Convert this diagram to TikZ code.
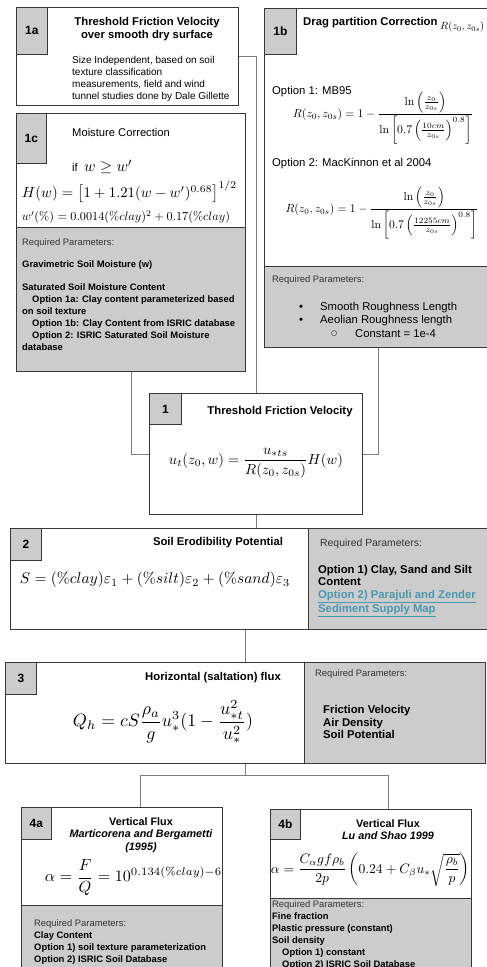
\documentclass[tikz,border=0pt]{standalone}
\usepackage[no-math]{fontspec}
\usepackage{amsmath}
\usepackage{graphicx}
\usetikzlibrary{positioning,calc}
\newfontfamily\arialfont{Liberation Sans}
\newfontfamily\symfont{DejaVu Sans}
\definecolor{boxline}{RGB}{55,55,55}
\definecolor{wiregray}{RGB}{125,125,125}
\definecolor{reqfill}{RGB}{204,204,204}
\definecolor{linkteal}{RGB}{74,152,176}

\begin{document}
\begin{tikzpicture}[
    x=1pt, y=-1pt,
    panel/.style={draw=boxline, line width=0.8pt, fill=white, anchor=north west, inner sep=0pt},
    reqbox/.style={draw=boxline, line width=0.8pt, fill=reqfill, anchor=north west, inner sep=0pt},
    tagbox/.style={draw=boxline, line width=0.8pt, fill=reqfill, anchor=north west, inner sep=0pt, font=\arialfont\bfseries\fontsize{12}{12}\selectfont},
    heading/.style={font=\arialfont\bfseries\fontsize{11.3}{12.5}\selectfont, align=center, inner sep=0pt},
    subhead/.style={font=\arialfont\bfseries\fontsize{10.8}{12.5}\selectfont, align=center, inner sep=0pt},
    body/.style={font=\arialfont\fontsize{10}{12}\selectfont, align=left, anchor=west, inner sep=0pt},
    opt/.style={font=\arialfont\fontsize{11.3}{13}\selectfont, anchor=west, inner sep=0pt},
    req/.style={font=\arialfont\fontsize{9.4}{11}\selectfont, anchor=west, inner sep=0pt, text=black!80},
    param/.style={font=\arialfont\bfseries\fontsize{9.4}{12}\selectfont, align=left, anchor=west, inner sep=0pt},
    bigparam/.style={font=\arialfont\bfseries\fontsize{11.3}{12.7}\selectfont, align=left, anchor=west, inner sep=0pt},
    formula/.style={inner sep=0pt},
    wire/.style={draw=wiregray, line width=0.8pt}
]
\useasboundingbox (0,0) rectangle (487,967);
\clip (0,0) rectangle (487,967);

% Threshold friction velocity, smooth surface
\node[panel, minimum width=222, minimum height=98] (box1a) at (16,7) {};
\node[tagbox, minimum width=31, minimum height=47] (tag1a) at (16,7) {1a};
\node[heading] (head1a) at (147,29) {Threshold Friction Velocity\\over smooth dry surface};
\node[body] (text1a) at (72,79) {Size Independent, based on soil\\texture classification\\measurements, field and wind\\tunnel studies done by Dale Gillette};

% Drag partition
\node[panel, minimum width=228, minimum height=339] (box1b) at (264,8) {};
\node[reqbox, minimum width=228, minimum height=81] (req1b) at (264,266) {};
\node[tagbox, minimum width=32, minimum height=46] (tag1b) at (264,8) {1b};
\node[heading, anchor=west] (head1b) at (303,23) {Drag partition Correction};
\node[formula, anchor=west] (r1b) at (440,27) {\resizebox{44pt}{!}{$R(z_0, z_{0s})$}};
\node[opt] (opt1b1) at (272,92) {Option 1: MB95};
\node[formula] (eq1b1) at (383,118) {\resizebox{180pt}{!}{$\displaystyle R(z_0, z_{0s}) = 1 - \frac{\ln\left(\frac{z_0}{z_{0s}}\right)}{\ln\left[0.7\left(\frac{10cm}{z_{0s}}\right)^{0.8}\right]}$}};
\node[opt] (opt1b2) at (272,164) {Option 2: MacKinnon et al 2004};
\node[formula] (eq1b2) at (382,213) {\resizebox{193pt}{!}{$\displaystyle R(z_0, z_{0s}) = 1 - \frac{\ln\left(\frac{z_0}{z_{0s}}\right)}{\ln\left[0.7\left(\frac{12255cm}{z_{0s}}\right)^{0.8}\right]}$}};
\node[req] (reqt1b) at (272,280) {Required Parameters:};
\node[opt] (dot1) at (299,308) {•};
\node[opt] (item1) at (320,308) {Smooth Roughness Length};
\node[opt] (dot2) at (299,321) {•};
\node[opt] (item2) at (320,321) {Aeolian Roughness length};
\node[opt, font=\symfont\fontsize{7}{8}\selectfont] (ring1) at (331,334) {○};
\node[opt] (item3) at (355,334) {Constant = 1e-4};

% Moisture correction
\node[panel, minimum width=229, minimum height=258] (box1c) at (16,113) {};
\node[reqbox, minimum width=229, minimum height=144] (req1c) at (16,227) {};
\node[tagbox, minimum width=30, minimum height=50] (tag1c) at (16,113) {1c};
\node[opt, font=\arialfont\fontsize{11.2}{13}\selectfont] (head1c) at (72,132) {Moisture Correction};
\node[opt] (if1c) at (72,167) {if\ \ \resizebox{48pt}{!}{$w \geq w'$}};
\node[formula] (eq1c1) at (129.5,192) {\resizebox{215pt}{!}{$H(w) = \left[1 + 1.21(w - w')^{0.68}\right]^{1/2}$}};
\node[formula] (eq1c2) at (126,217) {\resizebox{208pt}{!}{$w'(\%) = 0.0014(\%clay)^2 + 0.17(\%clay)$}};
\node[req] (reqt1c) at (22,243) {Required Parameters:};
\node[param] (par1c1) at (22,265) {Gravimetric Soil Moisture (w)};
\node[param] (par1c2) at (22,317) {Saturated Soil Moisture Content\\
  \hspace*{10pt}Option 1a: Clay content parameterized based\\
  on soil texture\\
  \hspace*{10pt}Option 1b: Clay Content from ISRIC database\\
  \hspace*{10pt}Option 2: ISRIC Saturated Soil Moisture\\
  database};

% Threshold friction velocity
\node[panel, minimum width=213, minimum height=121] (box1) at (149,393) {};
\node[tagbox, minimum width=32, minimum height=31] (tag1) at (149,393) {1};
\node[heading] (head1) at (280,412) {Threshold Friction Velocity};
\node[formula] (eq1) at (256,463) {\resizebox{174pt}{!}{$\displaystyle u_t(z_0,w) = \frac{u_{*ts}}{R(z_0,z_{0s})}H(w)$}};

% Soil erodibility
\node[panel, minimum width=476.5, minimum height=101] (box2) at (10,528) {};
\node[reqbox, minimum width=178.5, minimum height=101] (req2) at (308,528) {};
\node[tagbox, minimum width=31, minimum height=32] (tag2) at (10,528) {2};
\node[heading] (head2) at (218,543) {Soil Erodibility Potential};
\node[formula] (eq2) at (155,580) {\resizebox{270pt}{!}{$S = (\%clay)\varepsilon_1 + (\%silt)\varepsilon_2 + (\%sand)\varepsilon_3$}};
\node[req, font=\arialfont\fontsize{10.4}{12}\selectfont] (reqt2) at (320,544) {Required Parameters:};
\node[bigparam] (par2) at (318,591) {Option 1) Clay, Sand and Silt\\Content\\
  \textcolor{linkteal}{\underline{Option 2) Parajuli and Zender}}\\
  \textcolor{linkteal}{\underline{Sediment Supply Map}}};

% Horizontal flux
\node[panel, minimum width=480, minimum height=101] (box3) at (5,662) {};
\node[reqbox, minimum width=181, minimum height=101] (req3) at (304,662) {};
\node[tagbox, minimum width=31, minimum height=32] (tag3) at (5,662) {3};
\node[heading] (head3) at (213,678) {Horizontal (saltation) flux};
\node[formula] (eq3) at (163,722) {\resizebox{180pt}{!}{$\displaystyle Q_h = cS\frac{\rho_a}{g}u_*^3(1-\frac{u_{*t}^2}{u_*^2})$}};
\node[req] (reqt3) at (315,674) {Required Parameters:};
\node[bigparam] (par3) at (323,722) {Friction Velocity\\Air Density\\Soil Potential};

% Vertical flux
\node[panel, minimum width=201, minimum height=180] (box4a) at (21,807) {};
\node[reqbox, minimum width=201, minimum height=80] (req4a) at (21,905) {};
\node[tagbox, minimum width=30, minimum height=32] (tag4a) at (21,807) {4a};
\node[subhead] (head4a) at (141,835) {Vertical Flux\\\itshape Marticorena and Bergametti\\\itshape (1995)};
\node[formula] (eq4a) at (133.5,878) {\resizebox{177pt}{!}{$\displaystyle \alpha = \frac{F}{Q} = 10^{0.134(\%clay)-6}$}};
\node[req] (reqt4a) at (34,924) {Required Parameters:};
\node[param] (par4a) at (34,948) {Clay Content\\Option 1) soil texture parameterization\\Option 2) ISRIC Soil Database};

\node[panel, minimum width=201, minimum height=180] (box4b) at (270,809) {};
\node[reqbox, minimum width=201, minimum height=90] (req4b) at (270,898) {};
\node[tagbox, minimum width=30, minimum height=30] (tag4b) at (270,809) {4b};
\node[subhead] (head4b) at (388,829.5) {Vertical Flux\\\itshape Lu and Shao 1999};
\node[formula] (eq4b) at (370.5,870) {\resizebox{199pt}{!}{$\displaystyle \alpha = \frac{C_\alpha g f\rho_b}{2p}\left(0.24 + C_\beta u_*\sqrt{\frac{\rho_b}{p}}\right)$}};
\node[req] (reqt4b) at (272,905) {Required Parameters:};
\node[param, anchor=north west] (par4b) at (272,912.5) {Fine fraction\\Plastic pressure (constant)\\Soil density\\
  \hspace*{10pt}Option 1) constant\\\hspace*{10pt}Option 2) ISRIC Soil Database};

% Connections
\coordinate (split) at ($(box3.south)+(0,12)$);
\coordinate (drop4a) at (140,807);
\coordinate (drop4b) at (388,809);

\draw[wire] (box1a.east) -| (box1.north);
\draw[wire] (box1c.south) |- (box1.west);
\draw[wire] (box1b.south) |- (box1.east);
\draw[wire] (box1.south) -- (box1.south |- box2.north);
\draw[wire] (box3.north |- box2.south) -- (box3.north);
\draw[wire] (box3.south) -- (split);
\draw[wire] (drop4a) |- (split) -| (drop4b);

\end{tikzpicture}
\end{document}
